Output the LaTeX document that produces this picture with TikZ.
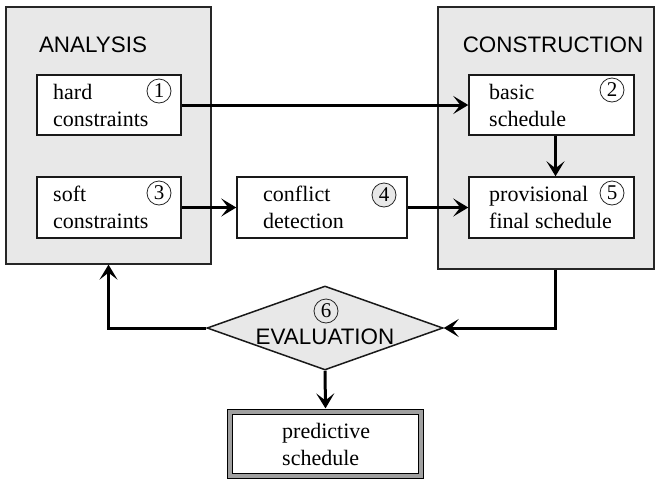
\documentclass[tikz,border=0pt]{standalone}
\usepackage{fontspec}
\setmainfont{Liberation Serif}
\newfontfamily\titlefont{Liberation Sans}
\usetikzlibrary{arrows.meta,shapes.geometric,calc}
\definecolor{panel}{HTML}{E8E8E8}
\definecolor{band}{HTML}{A0A0A0}

\begin{document}
\begin{tikzpicture}[x=1pt,y=-1pt,
  panelbox/.style={draw=black!85, line width=1.3pt, fill=panel, inner sep=0pt},
  stepbox/.style={draw=black!90, line width=1.5pt, fill=white, inner sep=0pt},
  label/.style={font=\fontsize{22}{27}\selectfont, align=left, anchor=west, inner sep=0pt},
  title/.style={font=\titlefont\fontsize{22.4}{26}\selectfont, inner sep=0pt},
  num/.style={circle, draw=black!85, line width=0.8pt, inner sep=0pt, minimum size=24pt,
              font=\fontsize{21}{21}\selectfont},
  flow/.style={line width=3pt, -{Stealth[length=15pt,width=18pt,inset=7pt]}}
]
\useasboundingbox (0,0) rectangle (656,480);

% the two phase panels
\node[panelbox, minimum width=205pt, minimum height=257pt] (analysis) at (108.5,135.5) {};
\node[panelbox, minimum width=216pt, minimum height=262pt] (construction) at (546,138) {};
\node[title] (analysisT) at (93,45) {ANALYSIS};
\node[title] (constructionT) at (553,45) {CONSTRUCTION};

% process steps
\node[stepbox, minimum width=144pt, minimum height=60pt] (hard) at (109,105) {};
\node[stepbox, minimum width=144pt, minimum height=61pt] (soft) at (109,207.5) {};
\node[stepbox, minimum width=170pt, minimum height=61pt] (conflict) at (322,207.5) {};
\node[stepbox, minimum width=165pt, minimum height=60pt] (basic) at (551.5,105) {};
\node[stepbox, minimum width=165pt, minimum height=61pt] (prov) at (551.5,207.5) {};

\node[label] (hardL) at (53,105) {hard\\constraints};
\node[label] (softL) at (53,207.5) {soft\\constraints};
\node[label] (conflictL) at (263,207.5) {conflict\\detection};
\node[label] (basicL) at (489,105) {basic\\schedule};
\node[label] (provL) at (489,207.5) {provisional\\final schedule};

\node[num, fill=white] (n1) at (159,91) {1};
\node[num, fill=white] (n2) at (612,90) {2};
\node[num, fill=white] (n3) at (159,193) {3};
\node[num, fill=panel] (n4) at (384,195) {4};
\node[num, fill=white] (n5) at (612,193) {5};

% evaluation decision
\node[diamond, draw=black!90, line width=1.5pt, fill=panel, inner sep=0pt,
      minimum width=236pt, minimum height=84pt] (eval) at (325,328) {};
\node[num] (n6) at (326,311) {6};
\node[title] (evalT) at (325,337) {EVALUATION};

% result
\node[draw=black, line width=1.2pt, double=band, double distance=4pt, fill=white,
      minimum width=190.6pt, minimum height=63.6pt, outer sep=3.8pt] (pred) at (325.5,444) {};
\node[label] (predL) at (282,444) {predictive\\schedule};

% connectors
\draw[flow] (hard.east) -- (basic.west);
\draw[flow] (soft.east) -- (conflict.west);
\draw[flow] (conflict.east) -- (prov.west);
\draw[flow] ([xshift=4pt]basic.south) -- ([xshift=4pt]basic.south |- prov.north);
\draw[flow] ([xshift=4pt]basic.south |- construction.south) |- (eval.east);
\draw[flow] (eval.west) -| (analysis.south);
\draw[flow] (eval.south) -- (pred.north);
\end{tikzpicture}
\end{document}
